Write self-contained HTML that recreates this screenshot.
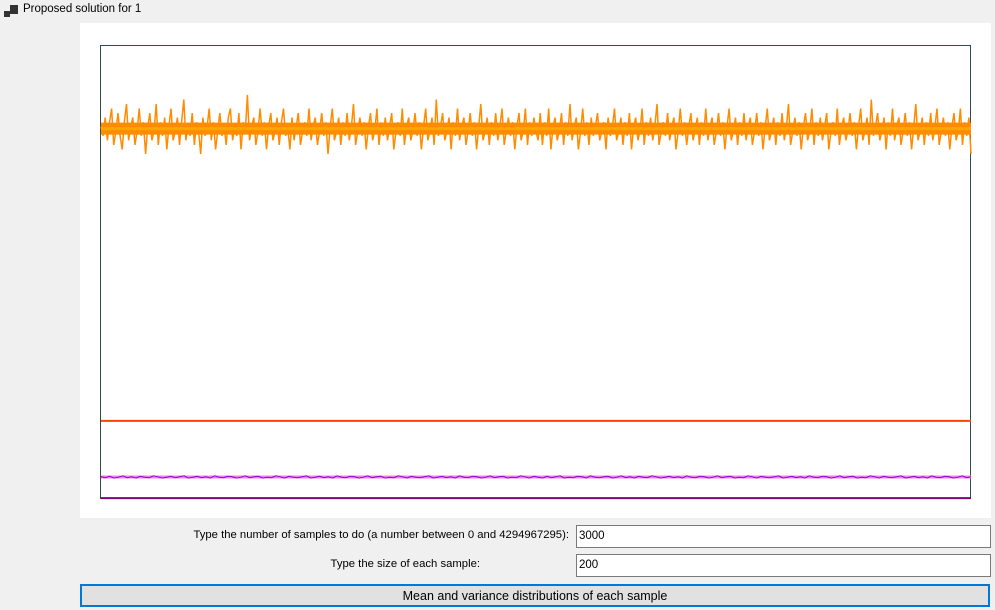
<!DOCTYPE html>
<html><head><meta charset="utf-8">
<style>
body{margin:0;width:995px;height:610px;background:#f0f0f0;font-family:"Liberation Sans",sans-serif;font-size:12px;position:relative;overflow:hidden}
.abs{position:absolute}
.inp{position:absolute;background:#fff;border:1px solid #7a7a7a;box-sizing:border-box;font-size:11.5px;padding:4px 2px;color:#000}
.lbl{position:absolute;text-align:right;color:#000;font-size:11.3px}
</style></head><body>
<div class="abs" style="left:4px;top:5px;width:14px;height:13px">
 <div class="abs" style="left:0;top:6px;width:6px;height:6px;background:#333"></div>
 <div class="abs" style="left:6px;top:0;width:8px;height:9px;background:#333"></div>
</div>
<div class="abs" style="left:23px;top:3px;font-size:11.5px">Proposed solution for 1</div>
<div class="abs" style="left:80px;top:23px;width:911px;height:495px;background:#fff"></div>
<svg class="abs" style="left:0;top:0" width="995" height="520" id="chart"></svg>
<div class="lbl" style="left:100px;width:469px;top:529px">Type the number of samples to do (a number between 0 and 4294967295):</div>
<div class="inp" style="left:576px;top:525px;width:415px;height:23px">3000</div>
<div class="lbl" style="left:100px;width:380px;top:558px">Type the size of each sample:</div>
<div class="inp" style="left:576px;top:554px;width:415px;height:23px">200</div>
<div class="abs" style="left:80px;top:584px;width:910px;height:23px;box-sizing:border-box;border:2px solid #0078d7;background:#e1e1e1;text-align:center;line-height:20px;font-size:12.5px">Mean and variance distributions of each sample</div>
<script>
const meanOfMeans=0.172;
const meanOfVariances=0.002;
const sampleMeans=[0.82,0.80,0.84,0.79,0.83,0.86,0.78,0.81,0.85,0.80,0.77,0.83,0.87,0.79,0.82,0.84,0.78,0.81,0.86,0.80,0.83,0.76,0.82,0.85,0.79,0.81,0.87,0.78,0.83,0.80,0.84,0.77,0.82,0.86,0.79,0.81,0.84,0.78,0.83,0.88,0.79,0.82,0.80,0.85,0.78,0.83,0.81,0.76,0.84,0.80,0.82,0.86,0.79,0.83,0.77,0.81,0.85,0.80,0.82,0.78,0.84,0.86,0.79,0.82,0.80,0.85,0.77,0.83,0.81,0.89,0.79,0.82,0.84,0.78,0.81,0.86,0.80,0.83,0.77,0.82,0.85,0.79,0.81,0.84,0.78,0.83,0.86,0.80,0.82,0.77,0.84,0.79,0.82,0.85,0.78,0.81,0.83,0.80,0.86,0.79,0.82,0.84,0.78,0.81,0.85,0.80,0.83,0.76,0.82,0.86,0.79,0.81,0.84,0.78,0.83,0.80,0.85,0.79,0.82,0.87,0.78,0.81,0.84,0.80,0.83,0.77,0.82,0.85,0.79,0.81,0.86,0.78,0.83,0.80,0.84,0.79,0.82,0.85,0.77,0.81,0.83,0.80,0.86,0.78,0.82,0.84,0.79,0.81,0.85,0.80,0.83,0.77,0.82,0.86,0.79,0.81,0.84,0.78,0.88,0.80,0.82,0.85,0.79,0.81,0.84,0.77,0.83,0.80,0.86,0.79,0.82,0.84,0.78,0.81,0.85,0.80,0.83,0.77,0.82,0.87,0.79,0.81,0.84,0.78,0.83,0.80,0.85,0.79,0.82,0.86,0.78,0.81,0.84,0.80,0.83,0.77,0.82,0.85,0.79,0.81,0.86,0.78,0.83,0.80,0.84,
0.81,0.79,0.85,0.78,0.83,0.80,0.86,0.77,0.82,0.84,0.79,0.81,0.85,0.78,0.83,0.80,0.87,0.79,0.82,0.84,0.77,0.81,0.86,0.80,0.83,0.78,0.84,0.80,0.82,0.85,0.79,0.81,0.83,0.77,0.84,0.80,0.82,0.86,0.79,0.81,0.84,0.78,0.83,0.80,0.85,0.77,0.82,0.84,0.79,0.81,0.86,0.78,0.83,0.80,0.84,0.79,0.82,0.87,0.78,0.81,0.83,0.80,0.85,0.79,0.82,0.84,0.77,0.81,0.86,0.80,0.83,0.78,0.82,0.85,0.79,0.81,0.84,0.78,0.83,0.80,0.86,0.79,0.82,0.84,0.78,0.81,0.85,0.80,0.83,0.77,0.82,0.86,0.79,0.81,0.84,0.78,0.83,0.80,0.85,0.79,0.82,0.84,0.78,0.81,0.85,0.80,0.83,0.77,0.82,0.86,0.79,0.81,0.84,0.78,0.83,0.80,0.85,0.79,0.82,0.87,0.78,0.81,0.84,0.80,0.83,0.77,0.82,0.85,0.79,0.81,0.86,0.78,0.83,0.80,0.84,0.79,0.82,0.85,0.77,0.81,0.83,0.80,0.86,0.78,0.82,0.84,0.79,0.81,0.85,0.80,0.83,0.77,0.82,0.86,0.79,0.81,0.84,0.78,0.88,0.80,0.82,0.85,0.79,0.81,0.84,0.77,0.83,0.80,0.86,0.79,0.82,0.84,0.78,0.81,0.85,0.80,0.83,0.77,0.82,0.87,0.79,0.81,0.84,0.78,0.83,0.80,0.85,0.79,0.82,0.86,0.78,0.81,0.84,0.80,0.83,0.77,0.82,0.85,0.79,0.81,0.86,0.78,0.83,0.80,0.84,0.76];
const sampleVariances=[0.049,0.047,0.050,0.046,0.048,0.051,0.047,0.049,0.046,0.050,0.048,0.047,0.051,0.049,0.046,0.048,0.050,0.047,0.049,0.051,0.046,0.048,0.050,0.047,0.049,0.046,0.051,0.048,0.047,0.050,0.049,0.046,0.048,0.051,0.047,0.049,0.050,0.046,0.048,0.047,0.051,0.049,0.046,0.050,0.048,0.047,0.049,0.051,0.046,0.048,0.050,0.047,0.049,0.046,0.051,0.048,0.047,0.050,0.049,0.046,0.048,0.051,0.047,0.049,0.050,0.046,0.048,0.047,0.051,0.049,0.046,0.050,0.048,0.047,0.049,0.051,0.046,0.048,0.050,0.047,0.049,0.046,0.051,0.048,0.047,0.050,0.049,0.046,0.048,0.051,0.047,0.049,0.050,0.046,0.048,0.047,0.051,0.049,0.046,0.050,
0.048,0.046,0.050,0.047,0.049,0.051,0.046,0.048,0.047,0.050,0.049,0.046,0.051,0.048,0.047,0.049,0.050,0.046,0.048,0.051,0.047,0.049,0.046,0.050,0.048,0.047,0.051,0.049,0.046,0.048,0.050,0.047,0.049,0.046,0.051,0.048,0.047,0.050,0.049,0.046,0.048,0.051,0.047,0.049,0.050,0.046,0.048,0.047,0.051,0.049,0.046,0.050,0.048,0.047,0.049,0.051,0.046,0.048,0.050,0.047,0.049,0.046,0.051,0.048,0.047,0.050,0.049,0.046,0.048,0.051,0.047,0.049,0.050,0.046,0.048,0.047,0.051,0.049,0.046,0.050,0.048,0.047,0.049,0.051,0.046,0.048,0.050,0.047,0.049,0.046,0.051,0.048,0.047,0.050,0.049,0.046,0.048,0.051,0.047,0.049];
const svg=document.getElementById('chart');
const NS='http://www.w3.org/2000/svg';
const X0=101,X1=971,Y0=45,Y1=499;
function xs(i,n){return X0+(X1-X0)*i/(n-1);}
function ys(v){return Y1-(Y1-Y0)*v;}
function poly(vals,color,w,name){
 const p=document.createElementNS(NS,'polyline');
 p.setAttribute('points',vals.map((v,i)=>xs(i,vals.length).toFixed(1)+','+ys(v).toFixed(1)).join(' '));
 p.setAttribute('fill','none');p.setAttribute('stroke',color);p.setAttribute('stroke-width',w);
 
 
 svg.appendChild(p);
}
function hline(v,color,w,name){
 const l=document.createElementNS(NS,'line');
 l.setAttribute('x1',X0);l.setAttribute('x2',X1);l.setAttribute('y1',ys(v));l.setAttribute('y2',ys(v));
 l.setAttribute('stroke',color);l.setAttribute('stroke-width',w);
 
 
 svg.appendChild(l);
}
const frame=document.createElementNS(NS,'rect');
frame.setAttribute('x',100.5);frame.setAttribute('y',45.5);frame.setAttribute('width',870);frame.setAttribute('height',453);
frame.setAttribute('fill','none');frame.setAttribute('stroke','#2f4f4f');


svg.appendChild(frame);
const avgM=sampleMeans.reduce((a,b)=>a+b,0)/sampleMeans.length;
hline(avgM,'#ff8c00',12,'sample-means-band');
poly(sampleMeans,'#ff8c00',1.5,'sample-means-series');
hline(avgM,'#ffa500',3,'sample-means-average');
hline(meanOfMeans,'#ff4500',2,'mean-of-means-line');
const avgV=sampleVariances.reduce((a,b)=>a+b,0)/sampleVariances.length;
hline(avgV,'#ee82ee',3,'sample-variances-average');
poly(sampleVariances,'#9400d3',1,'sample-variances-series');
hline(meanOfVariances,'#800080',2,'mean-of-variances-line');
</script>
</body></html>
